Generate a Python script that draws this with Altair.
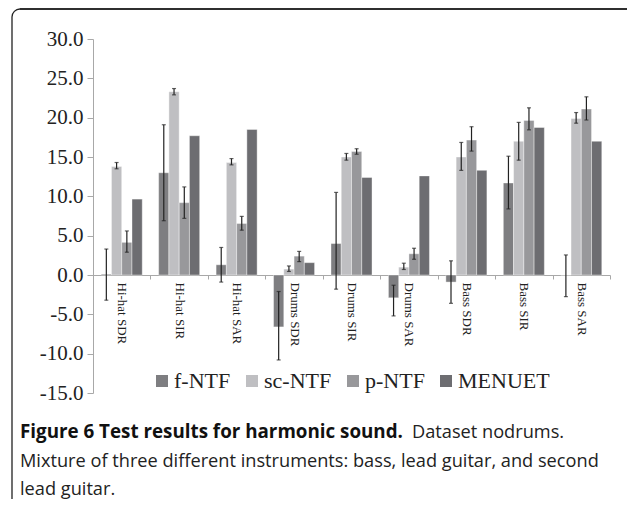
import altair as alt
import pandas as pd

categories = ["Hi-hat SDR", "Hi-hat SIR", "Hi-hat SAR", "Drums SDR", "Drums SIR",
              "Drums SAR", "Bass SDR", "Bass SIR", "Bass SAR"]
series = ["f-NTF", "sc-NTF", "p-NTF", "MENUET"]

f_ntf = [0.1, 13.0, 1.3, -6.6, 4.0, -2.9, -0.9, 11.7, 0.0]
f_lo = [-3.2, 6.9, -0.9, -10.8, -1.8, -5.2, -3.6, 8.4, -2.75]
f_hi = [3.3, 19.1, 3.5, -2.1, 10.5, -1.3, 1.8, 15.1, 2.55]

sc_ntf = [13.8, 23.3, 14.3, 0.75, 15.0, 1.0, 15.0, 17.0, 19.9]
sc_lo = [13.5, 22.9, 14.0, 0.45, 14.6, 0.7, 13.3, 14.6, 19.3]
sc_hi = [14.3, 23.7, 14.8, 1.15, 15.45, 1.5, 16.85, 19.4, 20.65]

p_ntf = [4.15, 9.2, 6.55, 2.4, 15.7, 2.7, 17.15, 19.65, 21.1]
p_lo = [2.9, 7.2, 5.7, 1.7, 15.35, 2.0, 15.75, 18.45, 19.7]
p_hi = [5.6, 11.2, 7.45, 3.0, 16.05, 3.4, 18.85, 21.25, 22.65]

menuet = [9.65, 17.7, 18.5, 1.57, 12.4, 12.6, 13.3, 18.75, 17.0]

y_ticks = [-15, -10, -5, 0, 5, 10, 15, 20, 25, 30]
colors = ["#7e7e81", "#bfbfc2", "#98989b", "#6d6d71"]

caption_bold = "Figure 6 Test results for harmonic sound."
caption_rest = "Dataset nodrums."
caption_line2 = "Mixture of three different instruments: bass, lead guitar, and second"
caption_line3 = "lead guitar."

rows = []
for i, c in enumerate(categories):
    rows.append({"cat": c, "s": "f-NTF", "v": f_ntf[i], "lo": f_lo[i], "hi": f_hi[i]})
    rows.append({"cat": c, "s": "sc-NTF", "v": sc_ntf[i], "lo": sc_lo[i], "hi": sc_hi[i]})
    rows.append({"cat": c, "s": "p-NTF", "v": p_ntf[i], "lo": p_lo[i], "hi": p_hi[i]})
    rows.append({"cat": c, "s": "MENUET", "v": menuet[i], "lo": None, "hi": None})
df = pd.DataFrame(rows)
err = df.dropna(subset=["lo"])

W, H = 517, 354

xaxis = alt.Axis(orient="bottom", offset=-118, labelAngle=90, tickBand="extent",
                 labelFont="Liberation Serif", labelFontSize=13, labelColor="#222",
                 labelPadding=3, tickSize=4, domainColor="#a8a8a8", tickColor="#a8a8a8",
                 labelOverlap=False, zindex=0)
xscale = alt.Scale(paddingInner=0, paddingOuter=0)
xe = alt.X("cat:N", sort=categories, title=None, scale=xscale, axis=xaxis)
xo = alt.XOffset("s:N", sort=series, scale=alt.Scale(paddingOuter=0.8, paddingInner=0))
yscale = alt.Scale(domain=[-15, 30], nice=False, zero=False)
yaxis = alt.Axis(values=y_ticks, grid=False, labelOverlap=False, zindex=0,
                 labelExpr="datum.value < 0 ? '-' + format(-datum.value, '.1f') : format(datum.value, '.1f')",
                 labelFont="Liberation Serif", labelFontSize=21, labelColor="#222",
                 labelPadding=4, tickSize=6, domainColor="#a8a8a8", tickColor="#a8a8a8")

bars = alt.Chart(df).mark_bar(stroke="white", strokeWidth=0.4).encode(
    x=xe, xOffset=xo,
    y=alt.Y("v:Q", scale=yscale, axis=yaxis, title=None),
    color=alt.Color("s:N", sort=series, scale=alt.Scale(domain=series, range=colors),
                    legend=alt.Legend(title=None, orient="none", direction="horizontal",
                                      legendX=58, legendY=331, symbolType="square",
                                      symbolSize=144, symbolStrokeWidth=0, labelOffset=1,
                                      columnPadding=10, labelFont="Liberation Serif",
                                      labelFontSize=22, labelColor="#222", padding=0)),
)

rules = alt.Chart(err).mark_rule(color="#222", strokeWidth=1.2).encode(
    x=xe, xOffset=xo, y=alt.Y("lo:Q", scale=yscale, axis=yaxis, title=None), y2="hi:Q")
caps_lo = alt.Chart(err).mark_tick(color="#222", size=4, thickness=1.2).encode(
    x=xe, xOffset=xo, y=alt.Y("lo:Q", scale=yscale, axis=yaxis, title=None))
caps_hi = alt.Chart(err).mark_tick(color="#222", size=4, thickness=1.2).encode(
    x=xe, xOffset=xo, y=alt.Y("hi:Q", scale=yscale, axis=yaxis, title=None))

one = alt.Data(values=[{"a": 1}])
frame = alt.Chart(one).mark_rect(fillOpacity=0, fill="white", stroke="#222", strokeWidth=1.3,
                                 cornerRadius=8).encode(
    x=alt.value(-81), x2=alt.value(580), y=alt.value(-30), y2=alt.value(560))
top_line = alt.Chart(one).mark_rule(color="#222", strokeWidth=1.4).encode(
    x=alt.value(-73), x2=alt.value(560), y=alt.value(-30))

cap_font = "Open Sans"
t1 = alt.Chart(one).mark_text(align="left", baseline="alphabetic", font=cap_font, fontSize=18.8,
                              fontWeight="bold", color="#111").encode(
    x=alt.value(-73), y=alt.value(399), text=alt.value(caption_bold))
t1b = alt.Chart(one).mark_text(align="left", baseline="alphabetic", font=cap_font, fontSize=18.2,
                               color="#222").encode(
    x=alt.value(319), y=alt.value(399), text=alt.value(caption_rest))
t2 = alt.Chart(one).mark_text(align="left", baseline="alphabetic", font=cap_font, fontSize=18.2,
                              color="#222").encode(
    x=alt.value(-73), y=alt.value(428), text=alt.value(caption_line2))
t3 = alt.Chart(one).mark_text(align="left", baseline="alphabetic", font=cap_font, fontSize=18.2,
                              color="#222").encode(
    x=alt.value(-73), y=alt.value(456), text=alt.value(caption_line3))

chart = alt.layer(bars, rules, caps_lo, caps_hi, frame, top_line, t1, t1b, t2, t3).properties(
    width=W, height=H,
    autosize=alt.AutoSizeParams(type="none"),
    padding={"left": 85, "top": 31, "right": 17, "bottom": 106},
).configure_view(stroke=None)

chart.save("out.html", embed_options={"renderer": "svg", "actions": False})
